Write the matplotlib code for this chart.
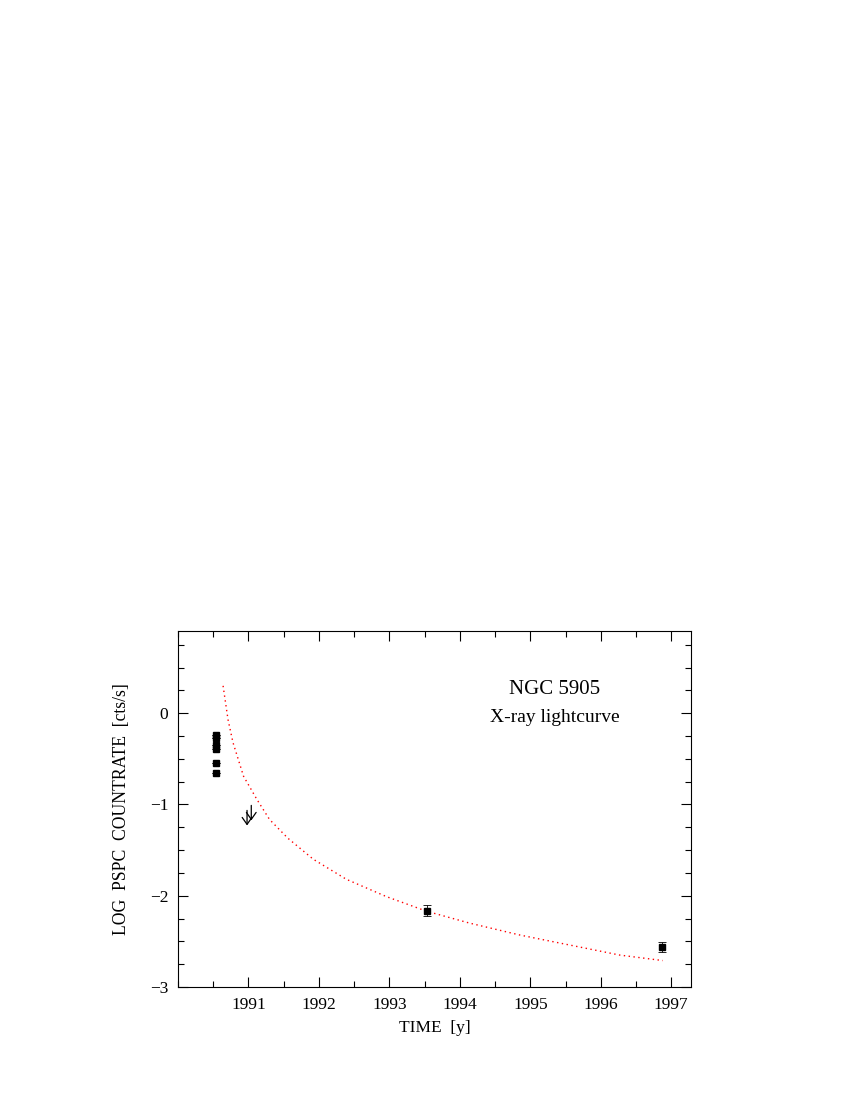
#!/usr/bin/env python3
"""NGC 5905 X-ray lightcurve (ROSAT PSPC count rate vs time)."""

import matplotlib
matplotlib.use("Agg")
import matplotlib.pyplot as plt
from matplotlib.ticker import MultipleLocator

plt.rcParams["font.family"] = ["Liberation Serif", "DejaVu Serif"]

# detections (RASS 1990 points + two later pointings)
t_obs = [1990.54, 1990.54, 1990.54, 1990.54, 1990.54, 1990.54, 1993.53, 1996.87]
lc_obs = [-0.235, -0.27, -0.35, -0.39, -0.55, -0.66, -2.165, -2.56]
lc_err = [0.0, 0.0, 0.0, 0.0, 0.0, 0.0, 0.06, 0.055]

# upper limits
t_ul = [1990.98, 1991.04]
lc_ul = [-1.065, -1.01]

# model decay curve
t_model = [1990.64, 1990.71, 1990.78, 1990.93, 1991.12, 1991.30, 1991.56,
           1991.92, 1992.39, 1992.96, 1993.53, 1994.14, 1994.85, 1995.56,
           1996.27, 1996.88]
lc_model = [0.30, -0.07, -0.32, -0.69, -0.945, -1.165, -1.37,
            -1.60, -1.82, -2.01, -2.17, -2.30, -2.43, -2.54,
            -2.65, -2.71]

fig = plt.figure(figsize=(8.5, 11), dpi=100)
ax = fig.add_axes([0.2094, 0.1027, 0.6035, 0.3236])

ax.plot(t_model, lc_model, color="red", ls=(0, (1, 2.5)), lw=1.0)

ax.errorbar(t_obs, lc_obs, yerr=lc_err, fmt="s", color="black", ms=5,
            ecolor="black", elinewidth=0.6, capsize=3, capthick=0.6)

for t, v in zip(t_ul, lc_ul):
    ax.annotate("", xy=(t, v - 0.165), xytext=(t, v),
                arrowprops=dict(arrowstyle="->,head_length=0.5,head_width=0.35",
                                color="black", lw=0.9, shrinkA=0, shrinkB=0))

ax.text(1995.35, 0.26, "NGC 5905", ha="center", va="center", fontsize=15)
ax.text(1995.35, -0.05, "X-ray lightcurve", ha="center", va="center", fontsize=14)

ax.set_xlim(1990.0, 1997.28)
ax.set_ylim(-3.0, 0.9)
ax.set_xticks([1991, 1992, 1993, 1994, 1995, 1996, 1997])
ax.set_yticks([-3, -2, -1, 0])
ax.set_yticklabels(["\u22123", "\u22122", "\u22121", "0"])
ax.xaxis.set_minor_locator(MultipleLocator(0.5))
ax.yaxis.set_minor_locator(MultipleLocator(0.25))
ax.tick_params(which="both", direction="in", top=True, right=True,
               labelsize=12.5, width=0.8)
ax.tick_params(which="major", length=7)
ax.tick_params(which="minor", length=4.3)
ax.tick_params(axis="x", pad=7)
ax.tick_params(axis="y", pad=7)
for s in ax.spines.values():
    s.set_linewidth(0.8)

ax.set_xlabel("TIME  [y]", fontsize=12.5, labelpad=5)
ax.set_ylabel("LOG  PSPC  COUNTRATE  [cts/s]", fontsize=12.7, labelpad=14)

fig.savefig("out.png", dpi=100)
